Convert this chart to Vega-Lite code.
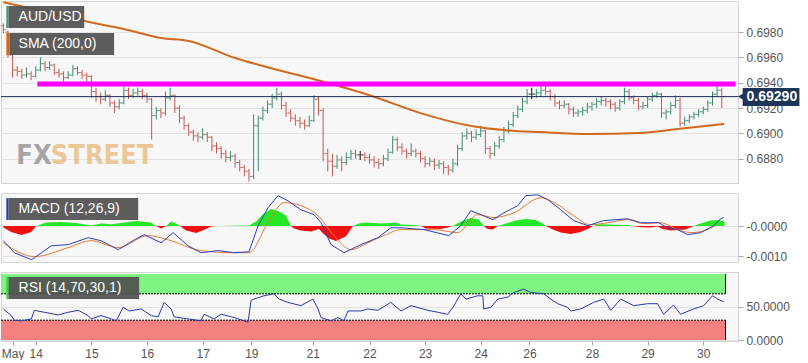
{
"$schema":"https://vega.github.io/schema/vega-lite/v6.json",
"padding":0,
"spacing":8,
"background":"#ffffff",
"config":{"view":{"stroke":"#d4d4d4","fill":"#f7f7f8"},"font":"Liberation Sans","axis":{"labelFont":"Liberation Sans","labelColor":"#555555","labelFontSize":12,"tickColor":"#aaaaaa","gridColor":"#e3e3e3","domain":false,"labelOverlap":false}},
"datasets":{
"ohlc":[
{"t":0,"o":0.6985,"h":0.6987,"l":0.6979,"c":0.6982},
{"t":2,"o":0.6980,"h":0.6981,"l":0.6960,"c":0.6962},
{"t":4,"o":0.6962,"h":0.6963,"l":0.6944,"c":0.6950},
{"t":6,"o":0.6950,"h":0.6953,"l":0.6945,"c":0.6949},
{"t":8,"o":0.6949,"h":0.6951,"l":0.6943,"c":0.6946},
{"t":10,"o":0.6946,"h":0.6952,"l":0.6944,"c":0.6947},
{"t":12,"o":0.6947,"h":0.6949,"l":0.6942,"c":0.6945},
{"t":14,"o":0.6945,"h":0.6953,"l":0.6944,"c":0.6950},
{"t":16,"o":0.6950,"h":0.6960,"l":0.6949,"c":0.6955},
{"t":18,"o":0.6955,"h":0.6957,"l":0.6949,"c":0.6952},
{"t":20,"o":0.6952,"h":0.6957,"l":0.6950,"c":0.6954},
{"t":22,"o":0.6954,"h":0.6955,"l":0.6946,"c":0.6948},
{"t":24,"o":0.6948,"h":0.6951,"l":0.6944,"c":0.6947},
{"t":26,"o":0.6947,"h":0.6949,"l":0.6941,"c":0.6944},
{"t":28,"o":0.6944,"h":0.6949,"l":0.6943,"c":0.6946},
{"t":30,"o":0.6946,"h":0.6954,"l":0.6945,"c":0.6951},
{"t":32,"o":0.6951,"h":0.6953,"l":0.6946,"c":0.6948},
{"t":34,"o":0.6948,"h":0.6950,"l":0.6943,"c":0.6946},
{"t":36,"o":0.6946,"h":0.6948,"l":0.6941,"c":0.6945},
{"t":38,"o":0.6945,"h":0.6946,"l":0.6928,"c":0.6933},
{"t":40,"o":0.6933,"h":0.6936,"l":0.6925,"c":0.6929},
{"t":42,"o":0.6929,"h":0.6932,"l":0.6923,"c":0.6927},
{"t":44,"o":0.6927,"h":0.6934,"l":0.6925,"c":0.6930},
{"t":46,"o":0.6930,"h":0.6931,"l":0.6921,"c":0.6924},
{"t":48,"o":0.6924,"h":0.6926,"l":0.6916,"c":0.6921},
{"t":50,"o":0.6921,"h":0.6927,"l":0.6919,"c":0.6924},
{"t":52,"o":0.6924,"h":0.6937,"l":0.6923,"c":0.6934},
{"t":54,"o":0.6934,"h":0.6936,"l":0.6927,"c":0.6930},
{"t":56,"o":0.6930,"h":0.6935,"l":0.6928,"c":0.6932},
{"t":58,"o":0.6932,"h":0.6936,"l":0.6929,"c":0.6933},
{"t":60,"o":0.6933,"h":0.6935,"l":0.6927,"c":0.6930},
{"t":62,"o":0.6930,"h":0.6932,"l":0.6924,"c":0.6927},
{"t":64,"o":0.6927,"h":0.6928,"l":0.6895,"c":0.6914},
{"t":66,"o":0.6914,"h":0.6921,"l":0.6911,"c":0.6918},
{"t":68,"o":0.6918,"h":0.6920,"l":0.6912,"c":0.6916},
{"t":70,"o":0.6916,"h":0.6933,"l":0.6914,"c":0.6928},
{"t":72,"o":0.6928,"h":0.6936,"l":0.6926,"c":0.6930},
{"t":74,"o":0.6930,"h":0.6931,"l":0.6916,"c":0.6920},
{"t":76,"o":0.6920,"h":0.6922,"l":0.6908,"c":0.6912},
{"t":78,"o":0.6912,"h":0.6914,"l":0.6903,"c":0.6906},
{"t":80,"o":0.6906,"h":0.6908,"l":0.6898,"c":0.6901},
{"t":82,"o":0.6901,"h":0.6903,"l":0.6894,"c":0.6898},
{"t":84,"o":0.6898,"h":0.6901,"l":0.6893,"c":0.6897},
{"t":86,"o":0.6897,"h":0.6904,"l":0.6895,"c":0.6899},
{"t":88,"o":0.6899,"h":0.6901,"l":0.6893,"c":0.6897},
{"t":90,"o":0.6897,"h":0.6898,"l":0.6886,"c":0.6890},
{"t":92,"o":0.6890,"h":0.6893,"l":0.6884,"c":0.6888},
{"t":94,"o":0.6888,"h":0.6890,"l":0.6880,"c":0.6884},
{"t":96,"o":0.6884,"h":0.6887,"l":0.6877,"c":0.6881},
{"t":98,"o":0.6881,"h":0.6886,"l":0.6878,"c":0.6882},
{"t":100,"o":0.6882,"h":0.6884,"l":0.6873,"c":0.6877},
{"t":102,"o":0.6877,"h":0.6879,"l":0.6870,"c":0.6873},
{"t":104,"o":0.6873,"h":0.6875,"l":0.6866,"c":0.6870},
{"t":106,"o":0.6870,"h":0.6872,"l":0.6862,"c":0.6866},
{"t":108,"o":0.6866,"h":0.6915,"l":0.6864,"c":0.6906},
{"t":110,"o":0.6906,"h":0.6914,"l":0.6870,"c":0.6912},
{"t":112,"o":0.6912,"h":0.6921,"l":0.6910,"c":0.6918},
{"t":114,"o":0.6918,"h":0.6926,"l":0.6916,"c":0.6923},
{"t":116,"o":0.6923,"h":0.6931,"l":0.6920,"c":0.6928},
{"t":118,"o":0.6928,"h":0.6936,"l":0.6926,"c":0.6931},
{"t":120,"o":0.6931,"h":0.6933,"l":0.6919,"c":0.6922},
{"t":122,"o":0.6922,"h":0.6925,"l":0.6913,"c":0.6916},
{"t":124,"o":0.6916,"h":0.6919,"l":0.6909,"c":0.6912},
{"t":126,"o":0.6912,"h":0.6915,"l":0.6906,"c":0.6910},
{"t":128,"o":0.6910,"h":0.6913,"l":0.6904,"c":0.6908},
{"t":130,"o":0.6908,"h":0.6911,"l":0.6903,"c":0.6906},
{"t":132,"o":0.6906,"h":0.6914,"l":0.6905,"c":0.6910},
{"t":134,"o":0.6910,"h":0.6930,"l":0.6909,"c":0.6927},
{"t":136,"o":0.6927,"h":0.6929,"l":0.6914,"c":0.6918},
{"t":138,"o":0.6918,"h":0.6920,"l":0.6878,"c":0.6884},
{"t":140,"o":0.6884,"h":0.6888,"l":0.6870,"c":0.6878},
{"t":142,"o":0.6878,"h":0.6884,"l":0.6866,"c":0.6874},
{"t":144,"o":0.6874,"h":0.6883,"l":0.6872,"c":0.6879},
{"t":146,"o":0.6879,"h":0.6882,"l":0.6870,"c":0.6877},
{"t":148,"o":0.6877,"h":0.6885,"l":0.6875,"c":0.6881},
{"t":150,"o":0.6881,"h":0.6887,"l":0.6879,"c":0.6884},
{"t":152,"o":0.6884,"h":0.6887,"l":0.6880,"c":0.6883},
{"t":154,"o":0.6883,"h":0.6886,"l":0.6879,"c":0.6883},
{"t":156,"o":0.6883,"h":0.6885,"l":0.6878,"c":0.6881},
{"t":158,"o":0.6881,"h":0.6884,"l":0.6876,"c":0.6879},
{"t":160,"o":0.6879,"h":0.6882,"l":0.6873,"c":0.6877},
{"t":162,"o":0.6877,"h":0.6880,"l":0.6872,"c":0.6876},
{"t":164,"o":0.6876,"h":0.6883,"l":0.6874,"c":0.6880},
{"t":166,"o":0.6880,"h":0.6888,"l":0.6878,"c":0.6885},
{"t":168,"o":0.6885,"h":0.6898,"l":0.6884,"c":0.6895},
{"t":170,"o":0.6895,"h":0.6897,"l":0.6886,"c":0.6889},
{"t":172,"o":0.6889,"h":0.6892,"l":0.6883,"c":0.6886},
{"t":174,"o":0.6886,"h":0.6888,"l":0.6880,"c":0.6884},
{"t":176,"o":0.6884,"h":0.6892,"l":0.6882,"c":0.6886},
{"t":178,"o":0.6886,"h":0.6888,"l":0.6881,"c":0.6884},
{"t":180,"o":0.6884,"h":0.6886,"l":0.6877,"c":0.6880},
{"t":182,"o":0.6880,"h":0.6882,"l":0.6873,"c":0.6876},
{"t":184,"o":0.6876,"h":0.6881,"l":0.6874,"c":0.6878},
{"t":186,"o":0.6878,"h":0.6880,"l":0.6871,"c":0.6875},
{"t":188,"o":0.6875,"h":0.6879,"l":0.6872,"c":0.6876},
{"t":190,"o":0.6876,"h":0.6878,"l":0.6868,"c":0.6873},
{"t":192,"o":0.6873,"h":0.6875,"l":0.6867,"c":0.6871},
{"t":194,"o":0.6871,"h":0.6880,"l":0.6869,"c":0.6876},
{"t":196,"o":0.6876,"h":0.6891,"l":0.6874,"c":0.6888},
{"t":198,"o":0.6888,"h":0.6901,"l":0.6886,"c":0.6898},
{"t":200,"o":0.6898,"h":0.6904,"l":0.6895,"c":0.6900},
{"t":202,"o":0.6900,"h":0.6902,"l":0.6893,"c":0.6897},
{"t":204,"o":0.6897,"h":0.6903,"l":0.6895,"c":0.6899},
{"t":206,"o":0.6899,"h":0.6906,"l":0.6897,"c":0.6902},
{"t":208,"o":0.6902,"h":0.6903,"l":0.6884,"c":0.6888},
{"t":210,"o":0.6888,"h":0.6890,"l":0.6880,"c":0.6884},
{"t":212,"o":0.6884,"h":0.6893,"l":0.6882,"c":0.6890},
{"t":214,"o":0.6890,"h":0.6898,"l":0.6888,"c":0.6895},
{"t":216,"o":0.6895,"h":0.6905,"l":0.6893,"c":0.6902},
{"t":218,"o":0.6902,"h":0.6910,"l":0.6900,"c":0.6907},
{"t":220,"o":0.6907,"h":0.6917,"l":0.6905,"c":0.6914},
{"t":222,"o":0.6914,"h":0.6922,"l":0.6912,"c":0.6919},
{"t":224,"o":0.6919,"h":0.6928,"l":0.6917,"c":0.6925},
{"t":226,"o":0.6925,"h":0.6935,"l":0.6923,"c":0.6931},
{"t":228,"o":0.6931,"h":0.6936,"l":0.6927,"c":0.6931},
{"t":230,"o":0.6931,"h":0.6935,"l":0.6928,"c":0.6932},
{"t":232,"o":0.6932,"h":0.6937,"l":0.6929,"c":0.6934},
{"t":234,"o":0.6934,"h":0.6937,"l":0.6930,"c":0.6933},
{"t":236,"o":0.6933,"h":0.6935,"l":0.6926,"c":0.6929},
{"t":238,"o":0.6929,"h":0.6931,"l":0.6921,"c":0.6924},
{"t":240,"o":0.6924,"h":0.6926,"l":0.6919,"c":0.6922},
{"t":242,"o":0.6922,"h":0.6926,"l":0.6920,"c":0.6923},
{"t":244,"o":0.6923,"h":0.6924,"l":0.6915,"c":0.6919},
{"t":246,"o":0.6919,"h":0.6921,"l":0.6913,"c":0.6916},
{"t":248,"o":0.6916,"h":0.6919,"l":0.6913,"c":0.6917},
{"t":250,"o":0.6917,"h":0.6921,"l":0.6914,"c":0.6918},
{"t":252,"o":0.6918,"h":0.6924,"l":0.6916,"c":0.6921},
{"t":254,"o":0.6921,"h":0.6925,"l":0.6918,"c":0.6923},
{"t":256,"o":0.6923,"h":0.6928,"l":0.6920,"c":0.6925},
{"t":258,"o":0.6925,"h":0.6929,"l":0.6922,"c":0.6926},
{"t":260,"o":0.6926,"h":0.6928,"l":0.6921,"c":0.6925},
{"t":262,"o":0.6925,"h":0.6927,"l":0.6919,"c":0.6923},
{"t":264,"o":0.6923,"h":0.6925,"l":0.6917,"c":0.6920},
{"t":266,"o":0.6920,"h":0.6927,"l":0.6918,"c":0.6925},
{"t":268,"o":0.6925,"h":0.6936,"l":0.6923,"c":0.6933},
{"t":270,"o":0.6933,"h":0.6935,"l":0.6926,"c":0.6928},
{"t":272,"o":0.6928,"h":0.6930,"l":0.6923,"c":0.6926},
{"t":274,"o":0.6926,"h":0.6928,"l":0.6918,"c":0.6921},
{"t":276,"o":0.6921,"h":0.6925,"l":0.6919,"c":0.6922},
{"t":278,"o":0.6922,"h":0.6929,"l":0.6920,"c":0.6927},
{"t":280,"o":0.6927,"h":0.6932,"l":0.6925,"c":0.6930},
{"t":282,"o":0.6930,"h":0.6933,"l":0.6928,"c":0.6931},
{"t":284,"o":0.6931,"h":0.6932,"l":0.6912,"c":0.6916},
{"t":286,"o":0.6916,"h":0.6919,"l":0.6911,"c":0.6917},
{"t":288,"o":0.6917,"h":0.6925,"l":0.6915,"c":0.6922},
{"t":290,"o":0.6922,"h":0.6930,"l":0.6920,"c":0.6926},
{"t":292,"o":0.6926,"h":0.6928,"l":0.6905,"c":0.6908},
{"t":294,"o":0.6908,"h":0.6913,"l":0.6906,"c":0.6910},
{"t":296,"o":0.6910,"h":0.6915,"l":0.6908,"c":0.6913},
{"t":298,"o":0.6913,"h":0.6917,"l":0.6911,"c":0.6915},
{"t":300,"o":0.6915,"h":0.6919,"l":0.6913,"c":0.6917},
{"t":302,"o":0.6917,"h":0.6921,"l":0.6915,"c":0.6919},
{"t":304,"o":0.6919,"h":0.6926,"l":0.6917,"c":0.6924},
{"t":306,"o":0.6924,"h":0.6933,"l":0.6922,"c":0.6931},
{"t":308,"o":0.6931,"h":0.6937,"l":0.6929,"c":0.6934},
{"t":310,"o":0.6934,"h":0.6936,"l":0.6920,"c":0.6929}
],
"sma":[
{"t":0,"v":0.70035},{"t":17,"v":0.69966},{"t":35,"v":0.69887},{"t":52,"v":0.69824},{"t":68,"v":0.69753},{"t":80,"v":0.6973},{"t":100,"v":0.69595},{"t":116,"v":0.69512},{"t":137,"v":0.69413},{"t":159,"v":0.69295},{"t":180,"v":0.6916},{"t":202,"v":0.69058},{"t":216,"v":0.69026},{"t":232,"v":0.6901},{"t":253,"v":0.68995},{"t":274,"v":0.69003},{"t":291,"v":0.69034},{"t":311,"v":0.69074}
],
"macd":[
{"t":0,"v":-0.00049},{"t":4.7,"v":-0.00089},{"t":12.1,"v":-0.00112},{"t":13.4,"v":-0.00106},{"t":20.7,"v":-0.00066},{"t":28,"v":-0.00062},{"t":36.6,"v":-0.00039},{"t":42.2,"v":-0.00049},{"t":49.6,"v":-0.00079},{"t":56.5,"v":-0.00046},{"t":60.8,"v":-0.00029},{"t":68.1,"v":-0.00056},{"t":73.3,"v":-0.00022},{"t":79.7,"v":-0.00066},{"t":85.3,"v":-0.00089},{"t":92.7,"v":-0.00082},{"t":99.6,"v":-0.00089},{"t":106,"v":-0.00086},{"t":109.9,"v":0.0},{"t":114.2,"v":0.00061},{"t":118.5,"v":0.00101},{"t":122.8,"v":0.00084},{"t":128.4,"v":0.00054},{"t":134.1,"v":0.00038},{"t":137.1,"v":0.00011},{"t":141.4,"v":-0.00062},{"t":147,"v":-0.00089},{"t":154.3,"v":-0.00062},{"t":161.6,"v":-0.00039},{"t":167.2,"v":-0.00006},{"t":171.6,"v":-0.00006},{"t":181.5,"v":-0.00012},{"t":192.2,"v":-0.00032},{"t":197.4,"v":0.00001},{"t":201.7,"v":0.00051},{"t":206,"v":0.00038},{"t":211.2,"v":0.00021},{"t":216,"v":0.00044},{"t":222,"v":0.00068},{"t":225.4,"v":0.00101},{"t":230.6,"v":0.00104},{"t":234.9,"v":0.00088},{"t":240.5,"v":0.00054},{"t":246.1,"v":0.00018},{"t":252.2,"v":0.00001},{"t":259,"v":0.00018},{"t":269.4,"v":0.00024},{"t":275,"v":0.00011},{"t":282.8,"v":0.00011},{"t":286.6,"v":-0.00006},{"t":290.9,"v":-0.00012},{"t":295.3,"v":-0.00029},{"t":300.9,"v":-0.00022},{"t":306.5,"v":0.00001},{"t":309.5,"v":0.00024},{"t":310.8,"v":0.00028}
],
"sig":[
{"t":0,"v":-0.00056},{"t":13.4,"v":-0.00102},{"t":28,"v":-0.00072},{"t":37.9,"v":-0.00049},{"t":49.6,"v":-0.00072},{"t":62.5,"v":-0.00032},{"t":71.1,"v":-0.00046},{"t":85.3,"v":-0.00082},{"t":99.6,"v":-0.00089},{"t":106,"v":-0.00089},{"t":114.2,"v":0.00011},{"t":121.1,"v":0.00078},{"t":128.4,"v":0.00068},{"t":135.8,"v":0.00034},{"t":142.7,"v":-0.00032},{"t":150,"v":-0.00079},{"t":157.3,"v":-0.00056},{"t":164.2,"v":-0.00032},{"t":171.6,"v":-0.00012},{"t":185.8,"v":-0.00012},{"t":196.1,"v":-0.00022},{"t":204.7,"v":0.00038},{"t":211.6,"v":0.00028},{"t":220.3,"v":0.00044},{"t":231.9,"v":0.00094},{"t":239.2,"v":0.00071},{"t":246.1,"v":0.00034},{"t":253.4,"v":0.00004},{"t":260.8,"v":0.00011},{"t":269.4,"v":0.00021},{"t":276.3,"v":0.00008},{"t":283.6,"v":0.00011},{"t":290.9,"v":-0.00012},{"t":296.6,"v":-0.00022},{"t":302.2,"v":-0.00016},{"t":307.3,"v":0.00001}
],
"hist":[
{"t":0,"v":-0.00005},{"t":3.4,"v":-0.0002},{"t":7.8,"v":-0.0003},{"t":12.1,"v":-0.0002},{"t":14.2,"v":0},{"t":18.5,"v":0.00012},{"t":25,"v":0.00013},{"t":31.5,"v":0.0001},{"t":37.9,"v":0.00002},{"t":42.2,"v":0.00008},{"t":46.6,"v":0.00006},{"t":50.9,"v":0.0001},{"t":57.3,"v":0.00017},{"t":63.8,"v":0.00012},{"t":65.9,"v":0},{"t":68.1,"v":-0.00008},{"t":70.3,"v":0},{"t":72.4,"v":0.00015},{"t":75.4,"v":0.00005},{"t":76.3,"v":0},{"t":78.9,"v":-0.00015},{"t":83.2,"v":-0.00023},{"t":87.5,"v":-0.0001},{"t":89.7,"v":-0.00002},{"t":91.8,"v":0},{"t":98.3,"v":0.00001},{"t":106,"v":0.00002},{"t":109.1,"v":0.00015},{"t":112.1,"v":0.0004},{"t":115.5,"v":0.00057},{"t":119,"v":0.00048},{"t":122,"v":0.00035},{"t":124.1,"v":0},{"t":125.4,"v":-0.00008},{"t":128.4,"v":-0.00015},{"t":132.8,"v":-0.00018},{"t":136.2,"v":-0.0001},{"t":138,"v":-0.00025},{"t":140.5,"v":-0.00042},{"t":143.5,"v":-0.0005},{"t":147.8,"v":-0.00035},{"t":150.9,"v":0},{"t":153.4,"v":0.00008},{"t":156.5,"v":0.00012},{"t":162.9,"v":0.00008},{"t":169.4,"v":0.00012},{"t":171.6,"v":0.00005},{"t":178,"v":0.00003},{"t":180.2,"v":0},{"t":182.3,"v":-0.00008},{"t":188.8,"v":-0.0001},{"t":192.2,"v":-0.00004},{"t":194,"v":0},{"t":197.4,"v":0.00015},{"t":201.7,"v":0.00027},{"t":205.2,"v":0.00022},{"t":207.3,"v":0},{"t":209,"v":-0.0001},{"t":211.2,"v":-0.00012},{"t":213.4,"v":0},{"t":216.8,"v":0.00008},{"t":221.1,"v":0.00018},{"t":225.4,"v":0.00023},{"t":229.7,"v":0.0002},{"t":232.8,"v":0.00008},{"t":234.1,"v":0},{"t":237.1,"v":-0.00012},{"t":240.5,"v":-0.00022},{"t":244.8,"v":-0.00027},{"t":249.1,"v":-0.0002},{"t":252.6,"v":-0.00008},{"t":254.3,"v":0},{"t":257.8,"v":0.00006},{"t":264.2,"v":0.00004},{"t":269.8,"v":0.00003},{"t":271.6,"v":0},{"t":275,"v":-0.00004},{"t":279.3,"v":-0.00005},{"t":282.3,"v":-0.00002},{"t":284.5,"v":-0.0001},{"t":287.9,"v":-0.00015},{"t":294.4,"v":-0.00012},{"t":297.8,"v":0},{"t":300.9,"v":0.00008},{"t":305.2,"v":0.00018},{"t":308.6,"v":0.0002},{"t":311.2,"v":0.00015}
],
"rsi":[
{"t":0,"v":47},{"t":3.4,"v":37},{"t":4.7,"v":30},{"t":7.8,"v":29},{"t":12.1,"v":32},{"t":13.4,"v":45},{"t":17.7,"v":42},{"t":23.7,"v":38},{"t":28,"v":42},{"t":32.3,"v":45},{"t":36.6,"v":37},{"t":37.9,"v":32},{"t":42.2,"v":37},{"t":46.6,"v":32},{"t":48.7,"v":29},{"t":51.7,"v":49.5},{"t":54.3,"v":44},{"t":59.5,"v":47},{"t":63.8,"v":37},{"t":66.8,"v":35},{"t":69.4,"v":57},{"t":72.4,"v":47},{"t":73.7,"v":35},{"t":79.7,"v":32},{"t":85.3,"v":29},{"t":86.6,"v":39},{"t":90.9,"v":32},{"t":94,"v":39},{"t":99.6,"v":34},{"t":105.6,"v":27},{"t":106.9,"v":60},{"t":108.2,"v":62},{"t":112.5,"v":67},{"t":116.8,"v":70},{"t":119,"v":62},{"t":122.8,"v":57},{"t":128.4,"v":52},{"t":133.6,"v":62},{"t":135.8,"v":47},{"t":137.1,"v":34},{"t":141.4,"v":29},{"t":144.4,"v":34},{"t":147,"v":29},{"t":148.7,"v":44},{"t":154.3,"v":44},{"t":157.3,"v":47},{"t":161.6,"v":45},{"t":167.2,"v":57},{"t":171.6,"v":44},{"t":175.9,"v":52},{"t":183.2,"v":45},{"t":187.5,"v":42},{"t":191.8,"v":39},{"t":194,"v":49.5},{"t":197.4,"v":70},{"t":199.6,"v":62},{"t":204.7,"v":67},{"t":206.9,"v":67},{"t":207.3,"v":47},{"t":210.3,"v":49.5},{"t":213.4,"v":62},{"t":217.7,"v":65},{"t":220.3,"v":72},{"t":224.6,"v":77},{"t":227.6,"v":72},{"t":233.2,"v":70},{"t":236.2,"v":62},{"t":239.2,"v":55},{"t":243.5,"v":49.5},{"t":244.8,"v":44},{"t":249.1,"v":47},{"t":254.7,"v":57},{"t":259.1,"v":62},{"t":262.1,"v":45},{"t":266.4,"v":62},{"t":272,"v":52},{"t":278,"v":55},{"t":282.3,"v":55},{"t":284.9,"v":39},{"t":289.2,"v":53},{"t":292.2,"v":39},{"t":297.8,"v":47},{"t":302.2,"v":52},{"t":306,"v":67},{"t":308.2,"v":62},{"t":310.8,"v":58}
]
},
"vconcat":[
{"width":737,"height":182,"layer":[
{"data":{"name":"ohlc"},"mark":{"type":"rule","strokeWidth":1,"opacity":0},"encoding":{"x":{"field":"t","type":"quantitative","scale":{"domain":[-1,317],"nice":false,"zero":false},"axis":null},"y":{"field":"l","type":"quantitative","scale":{"domain":[0.68608,0.70045],"nice":false,"zero":false},"axis":{"orient":"right","values":[0.688,0.69,0.692,0.694,0.696,0.698],"tickCount":12,"format":".4f","grid":true,"tickSize":5,"labelPadding":3,"title":null,"labelOverlap":false}},"y2":{"field":"h"}}},
{"data":{"values":[{"a":"FX"}]},"mark":{"type":"text","font":"DejaVu Sans Condensed, Liberation Sans, sans-serif","fontWeight":"bold","fontSize":27,"color":"#8a8a8a","opacity":0.75,"align":"left","baseline":"alphabetic"},"encoding":{"x":{"datum":5.6,"type":"quantitative","axis":null},"y":{"datum":0.68755,"type":"quantitative"},"text":{"field":"a"}}},
{"data":{"values":[{"a":"STREET"}]},"mark":{"type":"text","font":"DejaVu Sans Condensed, Liberation Sans, sans-serif","fontWeight":"bold","fontSize":27,"color":"#e8b878","opacity":0.75,"align":"left","baseline":"alphabetic"},"encoding":{"x":{"datum":20.5,"type":"quantitative","axis":null},"y":{"datum":0.68755,"type":"quantitative"},"text":{"field":"a"}}},
{"data":{"name":"ohlc"},"mark":{"type":"rule","strokeWidth":1},"encoding":{"x":{"field":"t","type":"quantitative","axis":null},"y":{"field":"l","type":"quantitative"},"y2":{"field":"h"},"color":{"condition":[{"test":"datum.c==datum.o","value":"#111111"},{"test":"datum.c>datum.o","value":"#3a8a6c"}],"value":"#c2564e"}}},
{"data":{"name":"ohlc"},"mark":{"type":"tick","orient":"horizontal","size":2.5,"thickness":1,"xOffset":-1.5},"encoding":{"x":{"field":"t","type":"quantitative","axis":null},"y":{"field":"o","type":"quantitative"},"color":{"condition":[{"test":"datum.c==datum.o","value":"#111111"},{"test":"datum.c>datum.o","value":"#3a8a6c"}],"value":"#c2564e"}}},
{"data":{"name":"ohlc"},"mark":{"type":"tick","orient":"horizontal","size":2.5,"thickness":1,"xOffset":1.5},"encoding":{"x":{"field":"t","type":"quantitative","axis":null},"y":{"field":"c","type":"quantitative"},"color":{"condition":[{"test":"datum.c==datum.o","value":"#111111"},{"test":"datum.c>datum.o","value":"#3a8a6c"}],"value":"#c2564e"}}},
{"data":{"name":"sma"},"mark":{"type":"line","color":"#d2691e","strokeWidth":2,"interpolate":"monotone","clip":true},"encoding":{"x":{"field":"t","type":"quantitative","axis":null},"y":{"field":"v","type":"quantitative"}}},
{"data":{"values":[{}]},"mark":{"type":"rule","color":"#ff00ff","strokeWidth":5},"encoding":{"x":{"datum":14.7,"type":"quantitative","axis":null},"x2":{"datum":316},"y":{"datum":0.6939,"type":"quantitative"}}},
{"data":{"values":[{}]},"mark":{"type":"rule","color":"#1c2e50","strokeWidth":1},"encoding":{"y":{"datum":0.6929,"type":"quantitative"}}},
{"data":{"values":[{}]},"mark":{"type":"rect","color":"#4f4f4f","opacity":0.92},"encoding":{"x":{"datum":2.16,"type":"quantitative","axis":null},"x2":{"datum":34.9},"y":{"datum":0.70006,"type":"quantitative"},"y2":{"datum":0.69832}}},
{"data":{"values":[{}]},"mark":{"type":"rect","color":"#3f9a78"},"encoding":{"x":{"datum":1.29,"type":"quantitative","axis":null},"x2":{"datum":2.16},"y":{"datum":0.70006,"type":"quantitative"},"y2":{"datum":0.69832}}},
{"data":{"values":[{"a":"AUD/USD"}]},"mark":{"type":"text","color":"#ffffff","fontSize":14,"align":"left","baseline":"middle"},"encoding":{"x":{"datum":6.6,"type":"quantitative","axis":null},"y":{"datum":0.69919,"type":"quantitative"},"text":{"field":"a"}}},
{"data":{"values":[{}]},"mark":{"type":"rect","color":"#4f4f4f","opacity":0.92},"encoding":{"x":{"datum":2.59,"type":"quantitative","axis":null},"x2":{"datum":47.8},"y":{"datum":0.69792,"type":"quantitative"},"y2":{"datum":0.69619}}},
{"data":{"values":[{}]},"mark":{"type":"rect","color":"#d2691e"},"encoding":{"x":{"datum":1.29,"type":"quantitative","axis":null},"x2":{"datum":2.59},"y":{"datum":0.69792,"type":"quantitative"},"y2":{"datum":0.69619}}},
{"data":{"values":[{"a":"SMA (200,0)"}]},"mark":{"type":"text","color":"#ffffff","fontSize":14,"align":"left","baseline":"middle"},"encoding":{"x":{"datum":6.6,"type":"quantitative","axis":null},"y":{"datum":0.69705,"type":"quantitative"},"text":{"field":"a"}}},
{"data":{"values":[{}]},"mark":{"type":"point","shape":"triangle-left","filled":true,"size":45,"color":"#1e3557","opacity":1},"encoding":{"x":{"datum":318.2,"type":"quantitative","axis":null},"y":{"datum":0.6929,"type":"quantitative"}}},
{"data":{"values":[{}]},"mark":{"type":"rect","color":"#1e3557"},"encoding":{"x":{"datum":319,"type":"quantitative","axis":null},"x2":{"datum":343.5},"y":{"datum":0.69358,"type":"quantitative"},"y2":{"datum":0.69216}}},
{"data":{"values":[{"a":"0.69290"}]},"mark":{"type":"text","color":"#ffffff","fontSize":14,"fontWeight":"bold","align":"left","baseline":"middle"},"encoding":{"x":{"datum":320.7,"type":"quantitative","axis":null},"y":{"datum":0.6929,"type":"quantitative"},"text":{"field":"a"}}}
]},
{"width":737,"height":69,"layer":[
{"data":{"name":"hist"},"transform":[{"filter":"datum.v>=0"}],"mark":{"type":"area","color":"#26e626"},"encoding":{"x":{"field":"t","type":"quantitative","scale":{"domain":[-1,317],"nice":false,"zero":false},"axis":null},"y":{"field":"v","type":"quantitative","scale":{"domain":[-0.0012,0.0011],"nice":false,"zero":false},"axis":{"orient":"right","values":[0,-0.001],"tickCount":5,"labelExpr":"datum.value==0?'-0.0000':'-0.0010'","grid":true,"tickSize":5,"labelPadding":3,"title":null}},"y2":{"datum":0}}},
{"data":{"name":"hist"},"transform":[{"filter":"datum.v<=0"}],"mark":{"type":"area","color":"#ee1111"},"encoding":{"x":{"field":"t","type":"quantitative","axis":null},"y":{"field":"v","type":"quantitative"},"y2":{"datum":0}}},
{"data":{"name":"sig"},"mark":{"type":"line","color":"#e8782a","strokeWidth":1,"interpolate":"monotone"},"encoding":{"x":{"field":"t","type":"quantitative","axis":null},"y":{"field":"v","type":"quantitative"}}},
{"data":{"name":"macd"},"mark":{"type":"line","color":"#2a3fc0","strokeWidth":1},"encoding":{"x":{"field":"t","type":"quantitative","axis":null},"y":{"field":"v","type":"quantitative"}}},
{"data":{"values":[{}]},"mark":{"type":"rect","color":"#4f4f4f","opacity":0.92},"encoding":{"x":{"datum":2.16,"type":"quantitative","axis":null},"x2":{"datum":58.2},"y":{"datum":0.00093,"type":"quantitative"},"y2":{"datum":0.0002}}},
{"data":{"values":[{}]},"mark":{"type":"rect","color":"#2040c0"},"encoding":{"x":{"datum":1.29,"type":"quantitative","axis":null},"x2":{"datum":2.16},"y":{"datum":0.00093,"type":"quantitative"},"y2":{"datum":0.0002}}},
{"data":{"values":[{"a":"MACD (12,26,9)"}]},"mark":{"type":"text","color":"#ffffff","fontSize":14,"align":"left","baseline":"middle"},"encoding":{"x":{"datum":6.6,"type":"quantitative","axis":null},"y":{"datum":0.00057,"type":"quantitative"},"text":{"field":"a"}}}
]},
{"width":737,"height":69,"layer":[
{"data":{"name":"rsi"},"mark":{"type":"line","color":"#2a3aa8","strokeWidth":1,"opacity":0},"encoding":{"x":{"field":"t","type":"quantitative","scale":{"domain":[-1,317],"nice":false,"zero":false},"axis":{"orient":"bottom","values":[4,14,38,62,86,107,133.5,158,182,206,227,254,278,302],"tickCount":30,"labelExpr":"['May','14','15','16','17','19','21','22','23','24','26','28','29','30'][indexof([4,14,38,62,86,107,133.5,158,182,206,227,254,278,302],datum.value)]","tickSize":4,"labelPadding":3,"grid":false,"title":null,"labelOverlap":false,"labelFlush":false}},"y":{"field":"v","type":"quantitative","scale":{"domain":[-1.5,103],"nice":false,"zero":false},"axis":{"orient":"right","values":[0,50],"tickCount":5,"format":".4f","grid":true,"tickSize":5,"labelPadding":3,"title":null}}}},
{"data":{"values":[{}]},"mark":{"type":"rect","color":"#80f480"},"encoding":{"x":{"datum":-1,"type":"quantitative"},"x2":{"datum":311.6},"y":{"datum":70,"type":"quantitative"},"y2":{"datum":100}}},
{"data":{"values":[{}]},"mark":{"type":"rect","color":"#f58080"},"encoding":{"x":{"datum":-1,"type":"quantitative"},"x2":{"datum":311.6},"y":{"datum":0,"type":"quantitative"},"y2":{"datum":30}}},
{"data":{"values":[{}]},"mark":{"type":"rule","color":"#000000","strokeWidth":1,"strokeDash":[2,1]},"encoding":{"x":{"datum":-1,"type":"quantitative"},"x2":{"datum":311.6},"y":{"datum":70,"type":"quantitative"}}},
{"data":{"values":[{}]},"mark":{"type":"rule","color":"#000000","strokeWidth":1,"strokeDash":[2,1]},"encoding":{"x":{"datum":-1,"type":"quantitative"},"x2":{"datum":311.6},"y":{"datum":30,"type":"quantitative"}}},
{"data":{"values":[{}]},"mark":{"type":"rule","color":"#000000","strokeWidth":1},"encoding":{"x":{"datum":311.6,"type":"quantitative"},"y":{"datum":70,"type":"quantitative"},"y2":{"datum":100}}},
{"data":{"values":[{}]},"mark":{"type":"rule","color":"#000000","strokeWidth":1},"encoding":{"x":{"datum":311.6,"type":"quantitative"},"y":{"datum":0,"type":"quantitative"},"y2":{"datum":30}}},
{"data":{"name":"rsi"},"mark":{"type":"line","color":"#2a3aa8","strokeWidth":1},"encoding":{"x":{"field":"t","type":"quantitative"},"y":{"field":"v","type":"quantitative"}}},
{"data":{"values":[{}]},"mark":{"type":"rect","color":"#4f4f4f","opacity":0.92},"encoding":{"x":{"datum":2.16,"type":"quantitative"},"x2":{"datum":58.6},"y":{"datum":95.5,"type":"quantitative"},"y2":{"datum":62.1}}},
{"data":{"values":[{}]},"mark":{"type":"rect","color":"#3ad13a"},"encoding":{"x":{"datum":1.29,"type":"quantitative"},"x2":{"datum":2.16},"y":{"datum":95.5,"type":"quantitative"},"y2":{"datum":62.1}}},
{"data":{"values":[{"a":"RSI (14,70,30,1)"}]},"mark":{"type":"text","color":"#ffffff","fontSize":14,"align":"left","baseline":"middle"},"encoding":{"x":{"datum":6.6,"type":"quantitative"},"y":{"datum":78.8,"type":"quantitative"},"text":{"field":"a"}}}
]}
]
}
